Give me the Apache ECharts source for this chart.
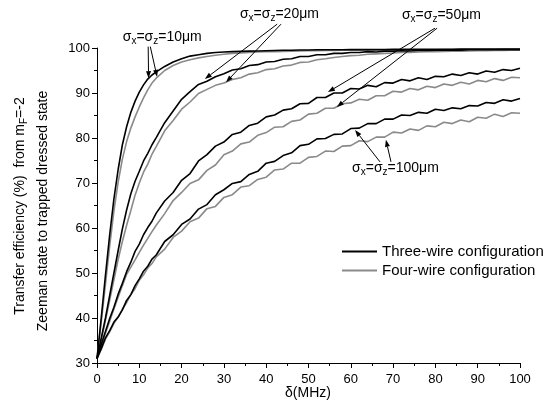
<!DOCTYPE html>
<html><head><meta charset="utf-8">
<script src="https://cdn.jsdelivr.net/npm/echarts@6/dist/echarts.min.js"></script>
<style>html,body{margin:0;padding:0;background:#fff}#c{width:558px;height:411px}</style>
</head><body><div id="c"></div>
<script>
const FONT = '"Liberation Sans", Arial, sans-serif';
const xValues = [0,1,2,3,4,5,6,7,8,9,10,11,12,13,14,16,18,20,22,24,26,28,30,32,34,36,38,40,42,44,46,48,50,52,54,56,58,60,62,64,66,68,70,72,74,76,78,80,82,84,86,88,90,92,94,96,98,100];

const threeWire10 = [31,40,49.5,58.5,66.5,73,78.5,82.5,85.7,88.2,90.2,91.8,93.1,94.0,94.7,95.9,96.9,97.6,98.2,98.5,98.8,99.0,99.1,99.2,99.25,99.3,99.35,99.4,99.45,99.5,99.5,99.55,99.55,99.6,99.6,99.6,99.6,99.65,99.65,99.65,99.65,99.65,99.7,99.7,99.7,99.7,99.7,99.7,99.7,99.7,99.75,99.75,99.75,99.75,99.75,99.75,99.75,99.75];
const fourWire10 = [31,39,47.5,56,63.8,70.2,75.3,79.2,82.2,84.7,86.9,88.9,90.7,92.2,93.3,95.0,96.1,96.9,97.4,97.8,98.1,98.4,98.6,98.8,98.9,99.0,99.1,99.15,99.2,99.25,99.3,99.35,99.4,99.4,99.45,99.45,99.5,99.5,99.5,99.55,99.55,99.55,99.6,99.6,99.6,99.6,99.6,99.6,99.65,99.65,99.65,99.65,99.65,99.65,99.65,99.65,99.65,99.65];
const threeWire20 = [31,35.5,40,45,50,55,59.8,64,67.6,70.4,72.6,74.9,76.6,78.5,80.1,83.4,86,88.6,90.3,91.9,92.6,93.6,94.3,95.1,95.4,96.1,96.3,96.9,97.0,97.5,97.6,98.1,98.1,98.5,98.5,98.8,98.8,99.0,99.0,99.2,99.1,99.3,99.3,99.4,99.35,99.45,99.45,99.5,99.5,99.55,99.5,99.6,99.6,99.6,99.6,99.65,99.65,99.65];
const fourWire20 = [31,35,39.5,44,48.5,53,57,60.6,63.9,67.3,70,72.4,74.2,76.4,78.1,81.6,83.9,86.4,88.0,89.9,90.8,91.7,92.2,93.0,93.4,94.2,94.5,95.2,95.4,96.0,96.2,96.8,96.9,97.4,97.6,97.9,98.1,98.3,98.4,98.6,98.7,98.8,98.9,99.0,99.0,99.1,99.15,99.2,99.25,99.3,99.3,99.35,99.4,99.4,99.45,99.45,99.5,99.5];
const threeWire50 = [31,34.1,37,39.9,42.4,45.3,47.7,50.3,52.4,54.8,56.4,58.5,60.1,61.5,63.3,66.0,67.9,70.6,72.1,74.9,76.3,78.2,79.1,80.8,81.3,82.8,83.3,84.7,85.1,86.2,86.5,87.6,87.7,89.0,89.0,90.0,90.0,91.0,90.9,91.7,91.4,92.3,92.2,93.0,92.7,93.4,93.0,93.7,93.6,94.2,93.9,94.5,94.2,94.9,94.6,95.2,95.0,95.5];
const fourWire50 = [31,33.8,36.6,39.3,42,44.6,47.2,49.7,51.3,52.9,54.6,56.2,57.7,59.2,60.6,63.2,66.1,67.9,69.9,70.7,72.8,74.0,76.3,77.1,78.7,79.1,80.6,81.2,82.4,82.5,83.7,84.0,85.3,85.5,86.6,86.6,87.6,87.8,88.6,88.4,89.4,89.4,90.4,90.2,91.0,90.7,91.5,91.2,92.0,91.7,92.4,92.0,92.8,92.5,93.2,92.8,93.5,93.4];
const threeWire100 = [31,33.2,35.6,37.2,39.1,40.2,41.8,43.9,45.2,47.2,48.7,50.4,51.5,53.1,54.0,57.0,58.5,60.8,62.0,64.2,65.2,67.4,68.5,69.9,70.3,71.9,72.6,74.4,74.8,76.1,76.7,78.3,78.6,79.8,79.9,80.8,80.9,82.1,82.2,83.2,83.2,84.2,84.2,85.1,85.0,85.7,85.5,86.4,86.1,86.7,86.5,87.2,87.1,87.9,87.7,88.5,88.2,88.8];
const fourWire100 = [31,33.0,35.3,36.9,38.8,40.2,42.0,43.4,45.2,46.5,48.4,49.6,51.1,52.1,53.6,55.3,57.9,59.3,61.4,62.2,64.3,64.8,66.8,67.4,69.1,69.4,70.8,71.3,72.9,73.1,74.4,74.4,75.7,75.9,77.1,77.0,78.2,78.3,79.4,79.2,80.2,80.2,81.3,81.1,82.0,81.7,82.7,82.5,83.5,83.2,84.0,83.6,84.6,84.4,85.3,84.8,85.6,85.5];

const seriesNames = ['Three-wire configuration', 'Four-wire configuration'];
// annotation labels: beam size, anchor (left-middle) in data coordinates
const labelSizes = ['10', '20', '50', '100'];
const labelAnchors = [[6.1, 102.4], [33.8, 107.6], [72.1, 107.3], [60.3, 73.3]];
// arrows: [start, tip] in data coordinates
const arrows = [
  [[12.1, 100.3], [12.2, 93.3]], [[12.6, 100.3], [14.2, 93.6]],
  [[42.6, 105.3], [25.5, 93.1]], [[43.5, 105.3], [30.5, 92.4]],
  [[79.9, 104.4], [54.6, 90.2]], [[80.4, 104.4], [56.7, 86.9]],
  [[66.9, 74.7], [61.0, 81.8]], [[69.5, 74.7], [68.3, 79.6]]
];

const BLACK = '#000000', GREY = '#8a8a8a';
function mk(name, arr, color) {
  return { type: 'line', name: name, data: xValues.map((x, i) => [x, arr[i]]),
    symbol: 'none', showSymbol: false, lineStyle: { color: color, width: 1.6 }, itemStyle: { color: color },
    animation: false, clip: false };
}
const chart = echarts.init(document.getElementById('c'), null, { renderer: 'canvas' });
const axisCommon = {
  axisLine: { show: true, lineStyle: { color: '#000', width: 1 } },
  axisTick: { show: true, inside: false, length: 5, lineStyle: { color: '#000' } },
  minorTick: { show: true, splitNumber: 2, length: 3, lineStyle: { color: '#000' } },
  splitLine: { show: false },
  axisLabel: { color: '#000', fontSize: 13, fontFamily: FONT }
};
chart.setOption({
  animation: false,
  backgroundColor: '#fff',
  grid: { left: 97, right: 38, top: 48, bottom: 48 },
  xAxis: Object.assign({ type: 'value', min: 0, max: 100, interval: 10 }, axisCommon,
    { axisLabel: Object.assign({}, axisCommon.axisLabel, { margin: 10 }) }),
  yAxis: Object.assign({ type: 'value', min: 30, max: 100, interval: 10 }, axisCommon,
    { axisLabel: Object.assign({}, axisCommon.axisLabel, { margin: 7 }) }),
  legend: { data: seriesNames.map(n => ({ name: n, icon: 'rect' })), orient: 'vertical', left: 342, top: 244,
    padding: 0, itemWidth: 35, itemHeight: 2, itemGap: 4,
    textStyle: { fontSize: 15, color: '#000', fontFamily: FONT } },
  series: [
    mk(seriesNames[1], fourWire10, GREY), mk(seriesNames[1], fourWire20, GREY),
    mk(seriesNames[1], fourWire50, GREY), mk(seriesNames[1], fourWire100, GREY),
    mk(seriesNames[0], threeWire10, BLACK), mk(seriesNames[0], threeWire20, BLACK),
    mk(seriesNames[0], threeWire50, BLACK), mk(seriesNames[0], threeWire100, BLACK)
  ]
});

const richSig = {
  a: { fontSize: 14, fontFamily: FONT, fill: '#000', color: '#000' },
  s: { fontSize: 10, fontFamily: FONT, fill: '#000', color: '#000', padding: [9, 0, 0, 0] }
};
const graphics = [];
const toPx = p => chart.convertToPixel({ gridIndex: 0 }, p);
labelSizes.forEach((sz, i) => {
  const p = toPx(labelAnchors[i]);
  graphics.push({ type: 'text', x: p[0], y: p[1], z: 10,
    style: { text: '{a|σ}{s|x}{a|=σ}{s|z}{a|=' + sz + 'μm}', rich: richSig,
      align: 'left', verticalAlign: 'middle', textAlign: 'left', textVerticalAlign: 'middle' } });
});
arrows.forEach(a => {
  const s = toPx(a[0]), t = toPx(a[1]);
  const ang = Math.atan2(t[1] - s[1], t[0] - s[0]);
  const L = 7, W = 2.5;
  const bx = t[0] - L * Math.cos(ang), by = t[1] - L * Math.sin(ang);
  graphics.push({ type: 'line', z: 10, shape: { x1: s[0], y1: s[1], x2: bx, y2: by },
    style: { stroke: '#000', lineWidth: 1 } });
  graphics.push({ type: 'polygon', z: 10, shape: { points: [t,
      [bx + W * Math.sin(ang), by - W * Math.cos(ang)],
      [bx - W * Math.sin(ang), by + W * Math.cos(ang)]] },
    style: { fill: '#000' } });
});
// axis titles
graphics.push({ type: 'text', x: 308, y: 393, style: { text: 'δ(MHz)', font: '14px ' + FONT, fill: '#000',
  align: 'center', verticalAlign: 'middle', textAlign: 'center', textVerticalAlign: 'middle' } });
graphics.push({ type: 'text', x: 20, y: 206, rotation: Math.PI / 2,
  style: { text: '{a|Transfer efficiency (%)  from m}{s|F}{a|=-2}', rich: richSig,
    align: 'center', verticalAlign: 'middle', textAlign: 'center', textVerticalAlign: 'middle' } });
graphics.push({ type: 'text', x: 43, y: 211, rotation: Math.PI / 2,
  style: { text: 'Zeeman state to trapped dressed state', font: '14px ' + FONT, fill: '#000',
    align: 'center', verticalAlign: 'middle', textAlign: 'center', textVerticalAlign: 'middle' } });
chart.setOption({ graphic: graphics });
</script></body></html>
